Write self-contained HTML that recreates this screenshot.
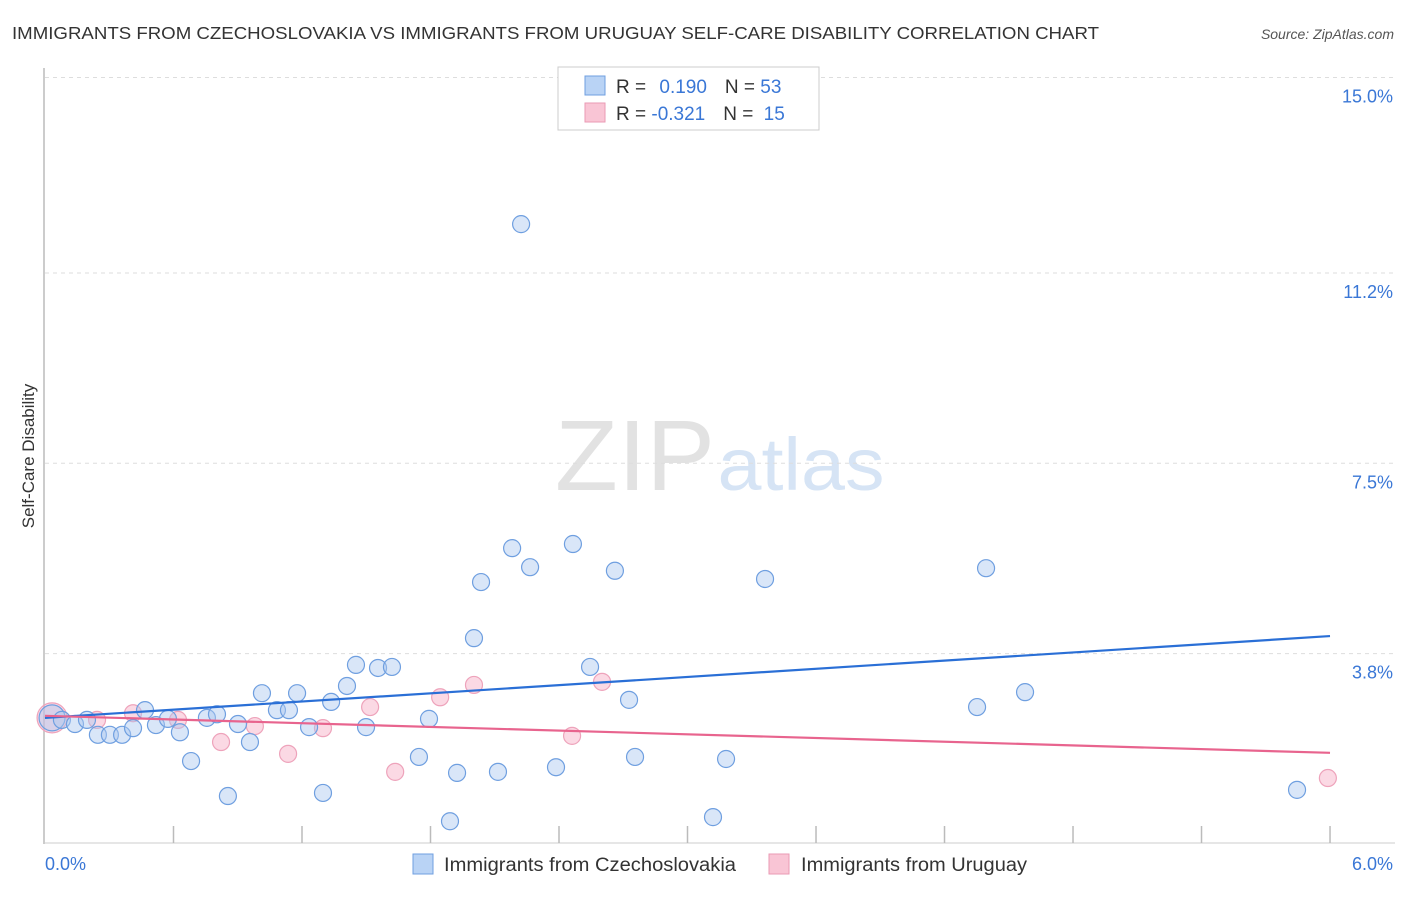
<!DOCTYPE html>
<html><head><meta charset="utf-8"><style>
body{margin:0;background:#fff;font-family:"Liberation Sans",sans-serif}
svg text{font-family:"Liberation Sans",sans-serif}
</style></head><body>
<svg id="c" width="1406" height="892" xmlns="http://www.w3.org/2000/svg">
<text x="12" y="39" font-size="17.5" fill="#333" textLength="1087" lengthAdjust="spacingAndGlyphs">IMMIGRANTS FROM CZECHOSLOVAKIA VS IMMIGRANTS FROM URUGUAY SELF-CARE DISABILITY CORRELATION CHART</text>
<text x="1394" y="39" font-size="14" font-style="italic" fill="#555" text-anchor="end">Source: ZipAtlas.com</text>
<text x="635" y="490" font-size="100" font-family="Liberation Serif" fill="#e2e2e2" text-anchor="middle" textLength="160" lengthAdjust="spacingAndGlyphs">ZIP</text>
<text x="801" y="490" font-size="74" fill="#d6e4f5" text-anchor="middle" textLength="167" lengthAdjust="spacingAndGlyphs">atlas</text>
<text transform="translate(34,456) rotate(-90)" font-size="17" fill="#333" text-anchor="middle">Self-Care Disability</text>
<g id="grid"></g><g id="pts"></g><g id="lines"></g>
<g>
<rect x="558" y="67" width="261" height="63" fill="#fff" stroke="#ccc"/>
<rect x="585" y="76" width="20" height="19" fill="#b9d3f5" stroke="#6f9fe0"/>
<rect x="585" y="103" width="20" height="19" fill="#f9c5d5" stroke="#ea9ab4"/>
<text x="616" y="93" font-size="19" fill="#333">R = <tspan fill="#3a77d6" dx="8">0.190</tspan><tspan dx="18" fill="#333">N = </tspan><tspan fill="#3a77d6">53</tspan></text>
<text x="616" y="120" font-size="19" fill="#333">R = <tspan fill="#3a77d6">-0.321</tspan><tspan dx="18" fill="#333">N = </tspan><tspan fill="#3a77d6" dx="5">15</tspan></text>
</g>
<rect x="413" y="854" width="20" height="20" fill="#b9d3f5" stroke="#6f9fe0"/>
<text x="444" y="871" font-size="19" fill="#333" textLength="292" lengthAdjust="spacingAndGlyphs">Immigrants from Czechoslovakia</text>
<rect x="769" y="854" width="20" height="20" fill="#f9c5d5" stroke="#ea9ab4"/>
<text x="801" y="871" font-size="19" fill="#333" textLength="226" lengthAdjust="spacingAndGlyphs">Immigrants from Uruguay</text>
</svg>
<script>
const yTicks=[3.8,7.5,11.2,15.0];
const yTickLabels=["3.8%","7.5%","11.2%","15.0%"];
const xTickLabels=["0.0%","6.0%"];
const blueX=[0.033,0.079,0.14,0.196,0.247,0.303,0.36,0.411,0.467,0.518,0.574,0.63,0.682,0.756,0.803,0.854,0.901,0.957,1.013,1.083,1.139,1.177,1.233,1.298,1.336,1.41,1.452,1.499,1.555,1.62,1.746,1.793,1.891,1.924,2.003,2.036,2.115,2.181,2.223,2.265,2.386,2.465,2.545,2.661,2.727,2.755,3.119,3.18,3.362,4.352,4.394,4.576,5.846];
const blueY=[2.55,2.51,2.43,2.51,2.22,2.22,2.22,2.35,2.70,2.41,2.53,2.27,1.71,2.55,2.62,1.03,2.43,2.08,3.03,2.70,2.70,3.03,2.37,1.09,2.86,3.17,3.58,2.37,3.52,3.54,1.79,2.53,0.54,1.48,4.10,5.19,1.50,5.85,12.15,5.48,1.59,5.93,3.54,5.41,2.90,1.79,0.62,1.75,5.25,2.76,5.46,3.05,1.15];
const pinkX=[0.033,0.243,0.411,0.621,0.822,0.98,1.135,1.298,1.518,1.635,1.845,2.003,2.461,2.601,5.99];
const pinkY=[2.55,2.51,2.64,2.51,2.08,2.39,1.85,2.35,2.76,1.50,2.95,3.19,2.20,3.25,1.38];
const blueTrend=[2.55,4.14];
const pinkTrend=[2.59,1.87];
const X=v=>45+v*214.17, Y=v=>849-v*51.43;
const NS="http://www.w3.org/2000/svg";
function mk(t,a,p){const e=document.createElementNS(NS,t);for(const k in a)e.setAttribute(k,a[k]);p.appendChild(e);return e;}
const g=document.getElementById('grid');
const ax=mk('line',{x1:44,y1:68,x2:44,y2:844,stroke:'#bbb','stroke-width':1.5},g);


const bx=mk('line',{x1:44,y1:843,x2:1395,y2:843,stroke:'#ccc'},g);


yTicks.forEach((v,i)=>{
 const l=mk('line',{x1:45,x2:1395,y1:Y(v),y2:Y(v),stroke:'#ddd','stroke-dasharray':'4,4'},g);
 
 
 const t=mk('text',{x:1393,y:Y(v)+25,'font-size':18,fill:'#3a77d6','text-anchor':'end'},g);
 t.textContent=yTickLabels[i];
 
 
});
for(let i=1;i<=10;i++){
 const l=mk('line',{x1:X(i*0.6),x2:X(i*0.6),y1:826,y2:843,stroke:'#bbb','stroke-width':1.5},g);
 
 
}
[[0,45,'start'],[6,1393,'end']].forEach((a,i)=>{
 const t=mk('text',{x:a[1],y:870,'font-size':18,fill:'#3a77d6','text-anchor':a[2]},g);
 t.textContent=xTickLabels[i];
 
 
});
const P=document.getElementById('pts');
pinkX.forEach((v,i)=>{
 const c=mk('circle',{cx:X(v),cy:Y(pinkY[i]),r:i==0?15:8.5,fill:'rgba(246,170,195,0.45)',stroke:'#eea3bb','stroke-width':1.2},P);
 
 
});
blueX.forEach((v,i)=>{
 const c=mk('circle',{cx:X(v),cy:Y(blueY[i]),r:i==0?13:8.5,fill:'rgba(170,200,240,0.45)',stroke:'#6f9fe0','stroke-width':1.2},P);
 
 
});
const L=document.getElementById('lines');
const bl=mk('line',{x1:X(0),y1:Y(blueTrend[0]),x2:X(6),y2:Y(blueTrend[1]),stroke:'#2a6fd6','stroke-width':2.2},L);


const pl=mk('line',{x1:X(0),y1:Y(pinkTrend[0]),x2:X(6),y2:Y(pinkTrend[1]),stroke:'#e8648e','stroke-width':2.2},L);


</script>
</body></html>
